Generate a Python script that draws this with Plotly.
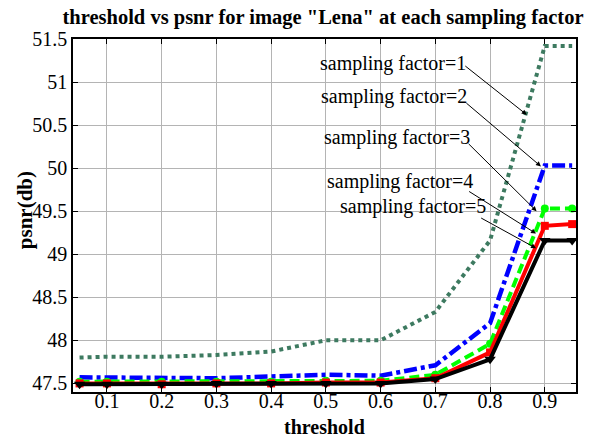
import plotly.graph_objects as go

threshold = [0.05, 0.1, 0.2, 0.3, 0.4, 0.5, 0.6, 0.7, 0.8, 0.9, 0.95]
sf1 = [47.80, 47.81, 47.81, 47.83, 47.87, 48.00, 48.00, 48.33, 49.16, 51.42, 51.42]
sf2 = [47.57, 47.57, 47.57, 47.56, 47.58, 47.60, 47.59, 47.71, 48.20, 50.03, 50.03]
sf3 = [47.52, 47.52, 47.52, 47.52, 47.52, 47.53, 47.53, 47.60, 47.96, 49.53, 49.53]
sf4 = [47.50, 47.50, 47.49, 47.50, 47.50, 47.51, 47.51, 47.56, 47.86, 49.33, 49.35]
sf5 = [47.49, 47.49, 47.49, 47.50, 47.50, 47.50, 47.50, 47.55, 47.78, 49.16, 49.16]

x_ticks = [0.1, 0.2, 0.3, 0.4, 0.5, 0.6, 0.7, 0.8, 0.9]
y_ticks = [47.5, 48, 48.5, 49, 49.5, 50, 50.5, 51, 51.5]

labels = ["sampling factor=1", "sampling factor=2", "sampling factor=3",
          "sampling factor=4", "sampling factor=5"]
label_pos = [(0.760, 51.21), (0.762, 50.83), (0.767, 50.36), (0.773, 49.85), (0.796, 49.55)]
arrow_tail = [(0.752, 51.20), (0.754, 50.77), (0.758, 50.30), (0.759, 49.74), (0.781, 49.43)]
arrow_head = [(0.867, 50.62), (0.893, 50.02), (0.885, 49.50), (0.884, 49.24), (0.884, 49.07)]

FONT = "Liberation Serif"
L, R, T, B = 73, 12, 39, 45
PW, PH = 590 - L - R, 437 - T - B

fig = go.Figure()
fig.add_trace(go.Scatter(x=threshold, y=sf1, mode="lines",
                         line=dict(color="#3d7a60", width=4, dash="dot")))
fig.add_trace(go.Scatter(x=threshold, y=sf2, mode="lines",
                         line=dict(color="#0000ff", width=4.5, dash="13px,4px,4px,4px")))
fig.add_trace(go.Scatter(x=threshold, y=sf3, mode="lines+markers",
                         line=dict(color="#00ff00", width=4, dash="10px,5px"),
                         marker=dict(symbol="circle", size=8, color="#00ff00")))
fig.add_trace(go.Scatter(x=threshold, y=sf4, mode="lines+markers",
                         line=dict(color="#ff0000", width=4),
                         marker=dict(symbol="square", size=8, color="#ff0000")))
fig.add_trace(go.Scatter(x=threshold, y=sf5, mode="lines+markers",
                         line=dict(color="#000000", width=4),
                         marker=dict(symbol="triangle-down", size=10, color="#000000")))

annotations = []
for txt, (tx, ty) in zip(labels, label_pos):
    annotations.append(dict(x=tx, y=ty, xref="x", yref="y", text=txt, showarrow=False,
                            xanchor="right", yanchor="middle",
                            font=dict(family=FONT, size=20, color="black")))
for (ax_, ay_), (hx, hy) in zip(arrow_tail, arrow_head):
    annotations.append(dict(x=hx, y=hy, xref="x", yref="y", ax=ax_, ay=ay_,
                            axref="x", ayref="y", text=" ", showarrow=True,
                            arrowhead=2, arrowsize=1.0, arrowwidth=1, arrowcolor="black",
                            font=dict(size=1)))
annotations.append(dict(x=-(L - 25) / PW, y=(437 - B - 210) / PH, xref="paper", yref="paper",
                        text="<b>psnr(db)</b>", showarrow=False, textangle=-90,
                        xanchor="center", yanchor="middle",
                        font=dict(family=FONT, size=21, color="black")))
annotations.append(dict(x=(325 - L) / PW, y=-(427 - (437 - B)) / PH, xref="paper", yref="paper",
                        text="<b>threshold</b>", showarrow=False, xanchor="center", yanchor="middle",
                        font=dict(family=FONT, size=20, color="black")))

fig.update_layout(
    width=590, height=437,
    margin=dict(l=L, r=R, t=T, b=B),
    paper_bgcolor="white", plot_bgcolor="white",
    showlegend=False,
    annotations=annotations,
    title=dict(text='<b>threshold vs psnr for image "Lena" at each sampling factor</b>',
               x=323 / 590, xref="container", xanchor="center",
               y=1 - 17 / 437, yref="container", yanchor="middle",
               font=dict(family=FONT, size=20.5, color="black")),
    font=dict(family=FONT, color="black"),
)
fig.update_xaxes(range=[0.038, 0.957], tickvals=x_ticks, ticktext=[f"{v:g}" for v in x_ticks],
                 showgrid=True, gridcolor="#b4b4b4", gridwidth=1,
                 showline=True, linecolor="black", linewidth=1.5, mirror="ticks",
                 ticks="inside", ticklen=5, tickcolor="black", ticklabelstandoff=-10,
                 tickfont=dict(family=FONT, size=20, color="black"), zeroline=False)
fig.update_yaxes(range=[47.4, 51.5], tickvals=y_ticks, ticktext=[f"{v:g}" for v in y_ticks],
                 showgrid=True, gridcolor="#b4b4b4", gridwidth=1,
                 showline=True, linecolor="black", linewidth=1.5, mirror="ticks",
                 ticks="inside", ticklen=5, tickcolor="black",
                 tickfont=dict(family=FONT, size=20, color="black"), zeroline=False)

fig.write_html("out.html")
